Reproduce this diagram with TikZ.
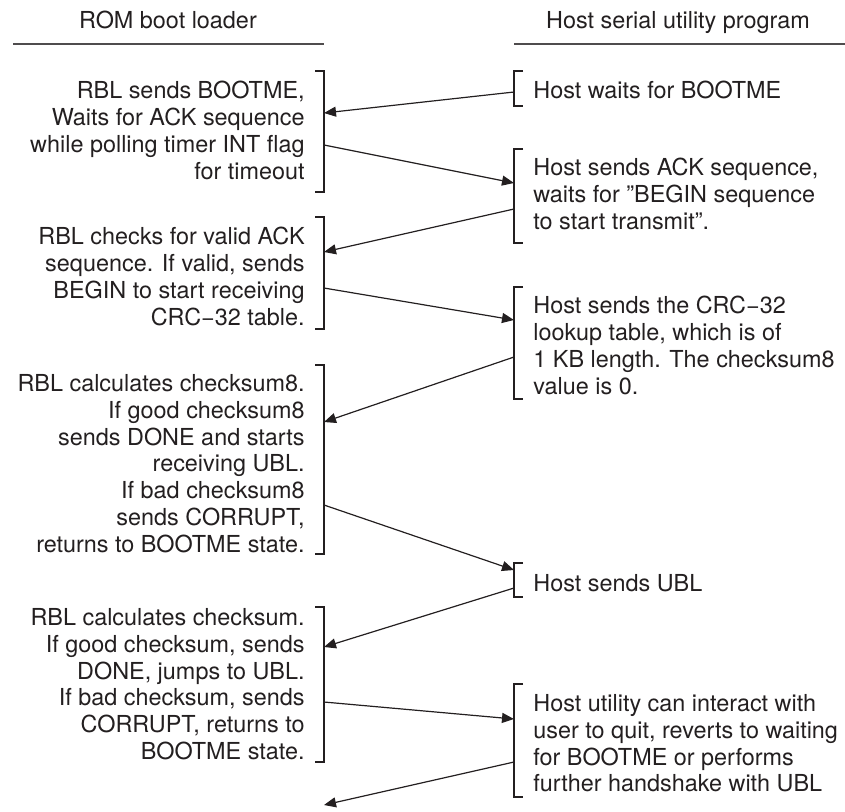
\documentclass[tikz,border=0pt]{standalone}
\usepackage{fontspec}
\setmainfont{TeX Gyre Heros}
\usetikzlibrary{arrows.meta}
\definecolor{ink}{HTML}{231F20}
\tikzset{
  txt/.style={inner sep=0pt,text=ink,font=\fontsize{11.7}{13.4}\selectfont},
  titre/.style={txt,anchor=base},
  rbl/.style={txt,anchor=north east,align=right},
  host/.style={txt,anchor=north west,align=left},
  filet/.style={draw=ink!80,line width=0.8pt},
  crochet/.style={draw=ink,line width=0.6pt},
  msg/.style={draw=ink,line width=0.6pt,-{Triangle[length=6pt,width=5pt]}}
}
\begin{document}
\begin{tikzpicture}[x=0.5pt,y=-0.5pt]
\useasboundingbox (0,0) rectangle (845,811);
\node[titre] (tbl) at (168,28.4) {ROM boot loader}; %Titre gauche
\node[titre] (thost) at (678,28.4) {Host serial utility program}; %Titre droit
\draw[filet] (13,44) -- (324,44);
\draw[filet] (514,44) -- (845,44);

\node[rbl] (rbl1) at (305,81) {RBL sends BOOTME,\\Waits for ACK sequence\\while polling timer INT flag\\for timeout};
\node[rbl] (rbl2) at (305,227) {RBL checks for valid ACK\\sequence. If valid, sends\\BEGIN to start receiving\\CRC−32 table.};
\node[rbl] (rbl3) at (305,374) {RBL calculates checksum8.\\If good checksum8\\sends DONE and starts\\receiving UBL.\\If bad checksum8\\sends CORRUPT,\\returns to BOOTME state.};
\node[rbl] (rbl4) at (305,608) {RBL calculates checksum.\\If good checksum, sends\\DONE, jumps to UBL.\\If bad checksum, sends\\CORRUPT, returns to\\BOOTME state.};

\node[host] (host1) at (533,81) {Host waits for BOOTME};
\node[host] (host2) at (533,158) {Host sends ACK sequence,\\waits for ”BEGIN sequence\\to start transmit”.};
\node[host] (host3) at (533,296) {Host sends the CRC−32\\lookup table, which is of\\1 KB length. The checksum8\\value is 0.};
\node[host] (host4) at (533,574) {Host sends UBL};
\node[host] (host5) at (533,694) {Host utility can interact with\\user to quit, reverts to waiting\\for BOOTME or performs\\further handshake with UBL};

\draw[crochet] (315,71) -| (324,192) -- (315,192); %Crochets gauche
\draw[crochet] (315,217) -| (324,329) -- (315,329);
\draw[crochet] (315,365) -| (324,554) -- (315,554);
\draw[crochet] (315,607) -| (324,762) -- (315,762);
\draw[crochet] (523,71) -| (514,106) -- (523,106); %Crochets droite
\draw[crochet] (523,149) -| (514,243) -- (523,243);
\draw[crochet] (523,287) -| (514,399) -- (523,399);
\draw[crochet] (523,563) -| (514,597) -- (523,597);
\draw[crochet] (523,684) -| (514,797) -- (523,797);

\coordinate (l1in) at (324,113); \coordinate (l1out) at (324,145);
\coordinate (l2in) at (324,252); \coordinate (l2out) at (324,288);
\coordinate (l3in) at (324,422); \coordinate (l3out) at (324,505);
\coordinate (l4in) at (324,647); \coordinate (l4out) at (324,702);
\coordinate (fin) at (324,805);
\coordinate (h1out) at (514,92);
\coordinate (h2in) at (514,183); \coordinate (h2out) at (514,209);
\coordinate (h3in) at (514,320); \coordinate (h3out) at (514,357);
\coordinate (h4in) at (514,570); \coordinate (h4out) at (514,588);
\coordinate (h5in) at (514,719); \coordinate (h5out) at (514,762);

\draw[msg] (h1out) -- (l1in); %BOOTME
\draw[msg] (l1out) -- (h2in);
\draw[msg] (h2out) -- (l2in);
\draw[msg] (l2out) -- (h3in);
\draw[msg] (h3out) -- (l3in);
\draw[msg] (l3out) -- (h4in);
\draw[msg] (h4out) -- (l4in);
\draw[msg] (l4out) -- (h5in);
\draw[msg] (h5out) -- (fin);
\end{tikzpicture}
\end{document}
